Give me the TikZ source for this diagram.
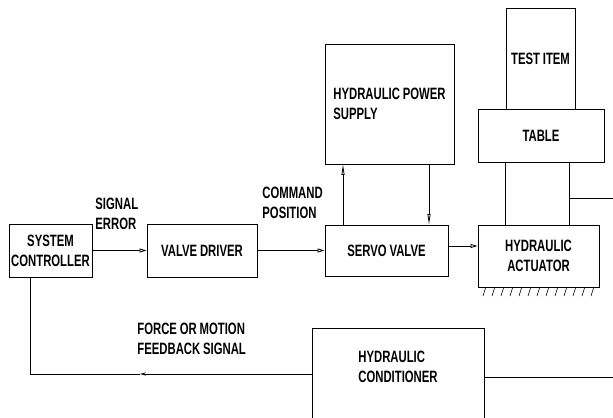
\documentclass[tikz,border=0pt]{standalone}
\usepackage{fontspec}
\setmainfont{Liberation Sans}[FakeStretch=0.69, WordSpace=0.9]
\usetikzlibrary{arrows.meta}
\newlength\px
\setlength\px{0.03cm}

\begin{document}
\begin{tikzpicture}[x=0.03cm, y=-0.03cm, line width=0.7pt,
    font=\fontsize{14}{17}\selectfont\bfseries,
    blk/.style={draw, inner sep=0pt, align=center},
    lbl/.style={anchor=west, align=left, inner sep=0pt},
    tip/.style={-{Triangle[open,length=6pt,width=3.4pt]}},
    vtip/.style={-{Triangle[open,length=9pt,width=2.6pt]}},
    fbtip/.style={-{Stealth[length=5pt,width=2.6pt]}}]
  \useasboundingbox (0,0) rectangle (613,417);

  % Blocks
  \node[blk, minimum width=83\px, minimum height=53\px] (sc) at (50.5,250.5) {SYSTEM\\CONTROLLER};
  \node[blk, minimum width=110\px, minimum height=53\px] (vd) at (202,250.5) {VALVE DRIVER};
  \node[blk, minimum width=123\px, minimum height=51\px] (sv) at (386.5,250.5) {SERVO VALVE};
  \node[blk, minimum width=129\px, minimum height=120\px, align=left] (hps)
        at (389.5,104) {HYDRAULIC POWER\\SUPPLY};
  \node[blk, minimum width=69\px, minimum height=101\px] (ti) at (540.5,58.5) {TEST ITEM};
  \node[blk, minimum width=126\px, minimum height=53\px] (ta) at (541,135.5) {TABLE};
  \node[blk, minimum width=121\px, minimum height=62\px] (ha) at (538.5,256) {HYDRAULIC\\ACTUATOR};
  \node[blk, minimum width=172\px, minimum height=92\px, align=left,
        text depth=13pt] (hc) at (398,374) {HYDRAULIC\\CONDITIONER};

  % Ground under actuator
  \foreach \x in {483,492,...,591}{
    \draw[line width=0.5pt] (\x,296) -- ++(2.5,-8);
  }

  % Labels
  \node[lbl] (errlbl) at (95,214) {SIGNAL\\ERROR};
  \node[lbl] (cmdlbl) at (262,202.5) {COMMAND\\POSITION};
  \node[lbl] (fblbl) at (137,338.5) {FORCE OR MOTION\\FEEDBACK SIGNAL};

  % Forward path
  \draw[tip] (sc.east) -- (vd.west);
  \draw[tip] (vd.east) -- (sv.west);
  \coordinate (svr) at (0,246);
  \draw[tip] (sv.east |- svr) -- (ha.west |- svr);

  % Supply and return
  \coordinate (pup) at (343,0);
  \coordinate (pdn) at (429,0);
  \draw[vtip] (pup |- sv.north) -- (pup |- hps.south);
  \draw[vtip] (pdn |- hps.south) -- (pdn |- sv.north);

  % Table columns
  \coordinate (cl) at (505,0);
  \coordinate (cr) at (569,0);
  \draw (cl |- ta.south) -- (cl |- ha.north);
  \draw (cr |- ta.south) -- (cr |- ha.north);
  \coordinate (outt) at (613,198);
  \draw (cr |- outt) -- (outt);

  % Feedback
  \coordinate (fbt) at (140,0);
  \coordinate (fbl) at (30,0);
  \draw[fbtip] (hc.west) -- (fbt |- hc.west);
  \draw (fbt |- hc.west) -- (fbl |- hc.west) -- (fbl |- sc.south);
  \coordinate (outb) at (613,377);
  \draw (hc.east |- outb) -- (outb);
\end{tikzpicture}
\end{document}
